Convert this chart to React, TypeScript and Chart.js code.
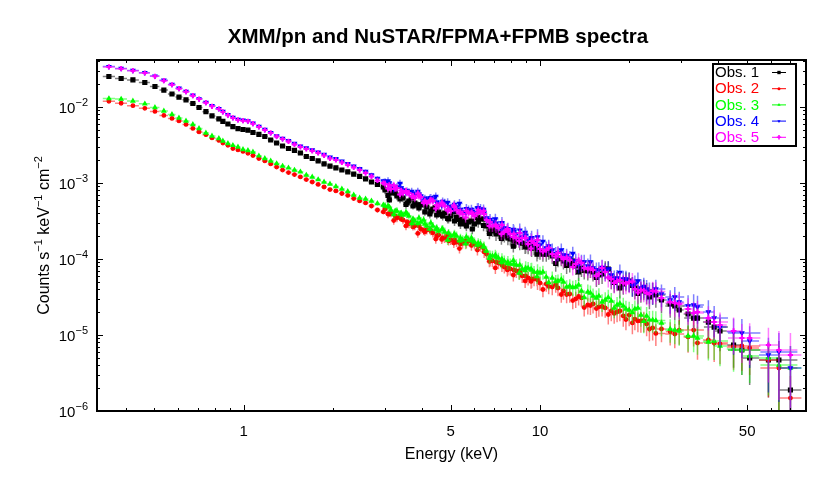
import React, { useEffect, useRef } from 'react';
import { Chart, registerables } from 'chart.js';
Chart.register(...registerables);

const FONT = '"Liberation Sans", Arial, Helvetica, sans-serif';
const TITLE = 'XMM/pn and NuSTAR/FPMA+FPMB spectra';
const X_TITLE = 'Energy (keV)';
const SERIES_NAMES = ['Obs. 1', 'Obs. 2', 'Obs. 3', 'Obs. 4', 'Obs. 5'];
const COLORS = ['#000000', '#ff0000', '#00ff00', '#0000ff', '#ff00ff'];
const POINT_STYLES = ['rect', 'circle', 'triangle', 'triangle', 'cross'];
const POINT_ROT = [0, 0, 0, 180, 0];
const POINT_R = [2.8, 1.8, 2.2, 2.2, 2.6];
const POINT_BW = [1.2, 1.2, 1.2, 1.2, 2];

const X_MIN = 0.32, X_MAX = 79, Y_MIN = 1e-6, Y_MAX = 0.0415;
const X_TICKS = [1, 5, 10, 50];
const X_MINOR = [0.4, 0.5, 0.6, 0.7, 0.8, 0.9, 2, 3, 4, 6, 7, 8, 9, 20, 30, 40, 60, 70];
const Y_TICKS = [1e-6, 1e-5, 1e-4, 1e-3, 1e-2];

const XMM_E = [0.351, 0.386, 0.423, 0.464, 0.502, 0.538, 0.573, 0.605, 0.639, 0.674, 0.707, 0.746, 0.782, 0.825, 0.851, 0.885, 0.920, 0.957, 0.995, 1.034, 1.075,
  1.126, 1.179, 1.234, 1.292, 1.353, 1.417, 1.484, 1.554, 1.627, 1.704, 1.784, 1.868, 1.956, 2.048, 2.145, 2.246, 2.352, 2.463, 2.579, 2.700, 2.828, 2.961, 3.101, 3.247, 3.400,
  3.560, 3.728, 3.904, 4.088, 4.281, 4.483, 4.694, 4.915, 5.147, 5.390, 5.644, 5.910, 6.189, 6.480, 6.786, 7.106, 7.441, 7.792, 8.159, 8.544, 8.947, 9.369, 9.810];
const XMM_ERR = [0.03, 0.03, 0.03, 0.03, 0.03, 0.03, 0.03, 0.03, 0.03, 0.03, 0.03, 0.03, 0.03, 0.03, 0.03, 0.03, 0.03, 0.03, 0.03, 0.03, 0.03,
  0.03, 0.03, 0.03, 0.03, 0.03, 0.035, 0.035, 0.035, 0.04, 0.04, 0.04, 0.045, 0.045, 0.05, 0.05, 0.05, 0.055, 0.06, 0.06, 0.065, 0.07, 0.07, 0.08, 0.08, 0.085,
  0.10, 0.10, 0.11, 0.11, 0.12, 0.12, 0.13, 0.13, 0.14, 0.14, 0.15, 0.15, 0.16, 0.17, 0.18, 0.19, 0.19, 0.20, 0.21, 0.22, 0.23, 0.24, 0.26];

const NUSTAR_A_E = [3.00, 3.14, 3.29, 3.45, 3.61, 3.78, 3.96, 4.15, 4.35, 4.55, 4.77, 5.00, 5.23, 5.48, 5.74, 6.01, 6.30, 6.60, 6.91, 7.24, 7.58, 7.94, 8.32, 8.71, 9.12, 9.55,
  10.0, 10.5, 11.0, 11.5, 12.0, 12.6, 13.2, 13.8, 14.5, 15.1, 15.8, 16.6, 17.4, 18.2, 19.1, 20.0, 20.9, 21.9, 22.9, 24.0,
  25.7, 27.5, 29.5, 31.6, 34.0, 37.0, 40.5, 45.0, 51.0, 59.0, 70.0];
const NUSTAR_A_ERR = [0.12, 0.12, 0.12, 0.12, 0.12, 0.12, 0.13, 0.13, 0.13, 0.13, 0.14,
  0.14, 0.14, 0.15, 0.15, 0.15, 0.16, 0.16, 0.17, 0.17, 0.18, 0.18, 0.19, 0.19, 0.20, 0.20,
  0.21, 0.21, 0.22, 0.22, 0.23, 0.23, 0.24, 0.24, 0.25, 0.25, 0.26, 0.26, 0.27, 0.27, 0.28, 0.29, 0.29, 0.30, 0.31, 0.32,
  0.33, 0.34, 0.36, 0.38, 0.40, 0.43, 0.46, 0.50, 0.56, 0.68, 0.95];
const NUSTAR_B_E = [3.07, 3.21, 3.37, 3.53, 3.69, 3.87, 4.05, 4.25, 4.45, 4.66, 4.88, 5.12, 5.35, 5.61, 5.87, 6.15, 6.45, 6.75, 7.07, 7.41, 7.76, 8.13, 8.51, 8.91, 9.33, 9.77,
  10.23, 10.7, 11.3, 11.8, 12.3, 12.9, 13.5, 14.1, 14.8, 15.5, 16.2, 17.0, 17.8, 18.6, 19.5, 20.5, 21.4, 22.4, 23.4, 24.6,
  28.5, 33.0, 38.7, 48.0, 64.0];
const NUSTAR_B_ERR = [0.12, 0.12, 0.12, 0.12, 0.12, 0.12, 0.13, 0.13, 0.13, 0.13, 0.14,
  0.14, 0.14, 0.15, 0.15, 0.15, 0.16, 0.16, 0.17, 0.17, 0.18, 0.18, 0.19, 0.19, 0.20, 0.20,
  0.21, 0.21, 0.22, 0.22, 0.23, 0.23, 0.24, 0.24, 0.25, 0.25, 0.26, 0.26, 0.27, 0.27, 0.28, 0.29, 0.29, 0.30, 0.31, 0.32,
  0.35, 0.39, 0.44, 0.53, 0.78];

const OBS1_XMM = [2.52e-2, 2.37e-2, 2.27e-2, 2.10e-2, 1.86e-2, 1.67e-2, 1.48e-2, 1.35e-2, 1.24e-2, 1.11e-2, 9.85e-3, 8.67e-3, 7.62e-3, 6.96e-3, 6.45e-3, 5.97e-3, 5.51e-3, 5.19e-3, 5.06e-3, 4.95e-3, 4.62e-3,
  4.35e-3, 4.09e-3, 3.68e-3, 3.36e-3, 3.07e-3, 2.84e-3, 2.68e-3, 2.48e-3, 2.23e-3, 2.10e-3, 1.95e-3, 1.78e-3, 1.67e-3, 1.58e-3, 1.48e-3, 1.40e-3, 1.31e-3, 1.22e-3, 1.13e-3, 1.03e-3, 9.56e-4, 8.86e-4, 5.98e-4, 7.39e-4, 6.96e-4,
  5.46e-4, 4.98e-4, 4.69e-4, 4.16e-4, 4.28e-4, 3.79e-4, 3.68e-4, 3.36e-4, 3.16e-4, 2.89e-4, 2.72e-4, 2.48e-4, 3.07e-4, 3.36e-4, 2.41e-4, 2.13e-4, 2.07e-4, 1.89e-4, 1.73e-4, 1.67e-4, 1.53e-4, 1.40e-4, 1.35e-4];
const OBS2_XMM = [1.19e-2, 1.12e-2, 1.04e-2, 9.6e-3, 8.73e-3, 7.74e-3, 7.06e-3, 6.55e-3, 5.89e-3, 5.22e-3, 4.69e-3, 4.32e-3, 3.91e-3, 3.63e-3, 3.36e-3, 3.13e-3, 2.84e-3, 2.72e-3, 2.60e-3, 2.46e-3, 2.30e-3,
  2.10e-3, 1.95e-3, 1.78e-3, 1.62e-3, 1.48e-3, 1.37e-3, 1.29e-3, 1.20e-3, 1.11e-3, 1.03e-3, 9.56e-4, 8.86e-4, 8.2e-4, 7.85e-4, 7.27e-4, 6.85e-4, 6.25e-4, 5.80e-4, 5.46e-4, 4.98e-4, 4.41e-4, 4.16e-4, 3.91e-4, 3.68e-4, 3.36e-4,
  3.07e-4, 2.64e-4, 2.72e-4, 2.27e-4, 2.34e-4, 2.01e-4, 1.89e-4, 1.73e-4, 1.78e-4, 1.58e-4, 1.62e-4, 1.67e-4, 1.48e-4, 1.24e-4, 9.7e-5, 9.1e-5, 8.34e-5, 7.62e-5, 7.17e-5, 6.96e-5, 5.98e-5, 5.46e-5, 5.30e-5];
const OBS3_XMM = [1.29e-2, 1.27e-2, 1.20e-2, 1.10e-2, 9.85e-3, 8.86e-3, 7.97e-3, 7.17e-3, 6.55e-3, 5.89e-3, 5.22e-3, 4.55e-3, 4.16e-3, 3.85e-3, 3.57e-3, 3.31e-3, 3.12e-3, 2.98e-3, 2.76e-3, 2.68e-3, 2.56e-3,
  2.27e-3, 2.10e-3, 1.95e-3, 1.80e-3, 1.67e-3, 1.58e-3, 1.48e-3, 1.40e-3, 1.27e-3, 1.20e-3, 1.11e-3, 1.03e-3, 9.70e-4, 9.0e-4, 8.34e-4, 7.74e-4, 6.96e-4, 6.35e-4, 6.16e-4, 5.80e-4, 5.38e-4, 5.14e-4, 4.83e-4, 4.28e-4, 4.03e-4,
  3.91e-4, 3.36e-4, 3.46e-4, 2.89e-4, 2.98e-4, 2.56e-4, 2.48e-4, 2.20e-4, 2.13e-4, 1.89e-4, 1.95e-4, 1.73e-4, 1.62e-4, 1.44e-4, 1.10e-4, 1.06e-4, 1.0e-4, 9.1e-5, 8.6e-5, 8.34e-5, 7.62e-5, 7.17e-5, 6.75e-5];
const OBS4_XMM = [3.40e-2, 3.22e-2, 3.02e-2, 2.83e-2, 2.55e-2, 2.25e-2, 1.98e-2, 1.76e-2, 1.60e-2, 1.43e-2, 1.28e-2, 1.15e-2, 1.04e-2, 9.5e-3, 8.7e-3, 7.9e-3, 7.3e-3, 6.85e-3, 6.7e-3, 6.55e-3, 6.1e-3,
  5.55e-3, 5.05e-3, 4.6e-3, 4.15e-3, 3.85e-3, 3.6e-3, 3.3e-3, 3.05e-3, 2.88e-3, 2.72e-3, 2.55e-3, 2.38e-3, 2.18e-3, 2.08e-3, 1.93e-3, 1.80e-3, 1.66e-3, 1.54e-3, 1.42e-3, 1.28e-3, 1.15e-3, 1.06e-3, 1.0e-3, 8.9e-4, 8.6e-4,
  7.9e-4, 7.3e-4, 7.1e-4, 6.3e-4, 6.4e-4, 5.6e-4, 5.7e-4, 4.9e-4, 5.2e-4, 4.5e-4, 4.6e-4, 4.2e-4, 4.7e-4, 4.1e-4, 3.3e-4, 2.95e-4, 3.0e-4, 2.5e-4, 2.3e-4, 2.4e-4, 2.05e-4, 1.9e-4, 1.95e-4];
const OBS5_XMM = [3.36e-2, 3.19e-2, 3.00e-2, 2.80e-2, 2.53e-2, 2.22e-2, 1.96e-2, 1.74e-2, 1.59e-2, 1.41e-2, 1.27e-2, 1.14e-2, 1.02e-2, 9.42e-3, 8.60e-3, 7.78e-3, 7.17e-3, 6.75e-3, 6.60e-3, 6.49e-3, 6.03e-3,
  5.46e-3, 4.98e-3, 4.55e-3, 4.09e-3, 3.79e-3, 3.52e-3, 3.21e-3, 2.98e-3, 2.80e-3, 2.64e-3, 2.48e-3, 2.30e-3, 2.10e-3, 2.01e-3, 1.86e-3, 1.73e-3, 1.60e-3, 1.48e-3, 1.35e-3, 1.22e-3, 1.08e-3, 1.00e-3, 9.42e-4, 8.34e-4, 7.97e-4,
  7.39e-4, 6.75e-4, 6.75e-4, 5.80e-4, 5.98e-4, 5.14e-4, 5.30e-4, 4.55e-4, 4.83e-4, 4.16e-4, 4.28e-4, 3.91e-4, 4.41e-4, 3.91e-4, 3.07e-4, 2.72e-4, 2.80e-4, 2.34e-4, 2.13e-4, 2.20e-4, 1.89e-4, 1.73e-4, 1.78e-4];

const OBS1_NUSTAR_A = [8.09e-4, 7.39e-4, 6.75e-4, 6.35e-4, 5.80e-4, 5.46e-4, 5.14e-4, 4.83e-4, 4.55e-4, 4.15e-4, 4.03e-4, 3.68e-4, 3.57e-4, 3.26e-4, 3.07e-4, 2.89e-4, 3.36e-4, 2.72e-4, 2.34e-4, 2.20e-4,
  2.01e-4, 1.83e-4, 1.73e-4, 1.62e-4, 1.44e-4, 1.40e-4, 1.24e-4, 1.16e-4, 1.10e-4, 1.00e-4, 9.42e-5, 8.60e-5, 8.09e-5, 7.62e-5, 6.96e-5, 6.75e-5, 6.16e-5, 7.39e-5, 5.46e-5, 5.29e-5,
  4.69e-5, 5.14e-5, 4.15e-5, 3.79e-5, 3.68e-5, 3.68e-5, 2.89e-5, 2.56e-5, 2.13e-5, 1.89e-5, 1.67e-5, 1.48e-5, 1.13e-5, 7.39e-6, 4.98e-6, 4.69e-6, 1.89e-6];
const OBS2_NUSTAR_A = [4.55e-4, 4.03e-4, 3.46e-4, 3.26e-4, 2.89e-4, 2.72e-4, 2.48e-4, 2.41e-4, 2.20e-4, 2.07e-4, 1.89e-4, 1.78e-4, 1.67e-4, 1.62e-4, 1.73e-4, 1.58e-4, 1.48e-4, 1.16e-4, 9.42e-5, 8.86e-5,
  7.85e-5, 7.39e-5, 6.96e-5, 5.98e-5, 5.62e-5, 5.46e-5, 4.83e-5, 4.69e-5, 4.28e-5, 4.15e-5, 3.79e-5, 3.46e-5, 2.98e-5, 3.07e-5, 2.48e-5, 2.56e-5, 2.34e-5, 2.27e-5, 2.07e-5, 2.01e-5,
  1.78e-5, 1.83e-5, 1.62e-5, 1.53e-5, 1.40e-5, 1.24e-5, 1.20e-5, 1.10e-5, 1.16e-5, 9.42e-6, 7.85e-6, 8.60e-6, 7.62e-6, 6.96e-6, 6.75e-6, 4.69e-6, 1.48e-6];
const OBS3_NUSTAR_A = [4.98e-4, 4.41e-4, 4.28e-4, 3.79e-4, 3.68e-4, 3.16e-4, 3.07e-4, 2.72e-4, 2.72e-4, 2.34e-4, 2.27e-4, 2.01e-4, 2.01e-4, 1.78e-4, 1.78e-4, 1.67e-4, 1.58e-4, 1.27e-4, 1.10e-4, 1.03e-4,
  9.42e-5, 8.60e-5, 8.34e-5, 7.39e-5, 7.62e-5, 6.75e-5, 6.55e-5, 5.80e-5, 5.62e-5, 5.14e-5, 4.98e-5, 4.41e-5, 4.28e-5, 3.79e-5, 3.68e-5, 3.26e-5, 3.26e-5, 2.89e-5, 2.80e-5, 2.48e-5,
  2.41e-5, 2.13e-5, 2.20e-5, 1.83e-5, 1.78e-5, 1.58e-5, 1.44e-5, 1.20e-5, 1.13e-5, 9.71e-6, 9.14e-6, 8.09e-6, 7.17e-6, 6.55e-6, 5.29e-6, 4.98e-6, 3.68e-6];
const OBS4_NUSTAR_A = [1.03e-3, 9.14e-4, 8.86e-4, 8.09e-4, 7.62e-4, 6.96e-4, 6.75e-4, 5.98e-4, 6.16e-4, 5.29e-4, 5.46e-4, 4.69e-4, 4.83e-4, 4.15e-4, 4.41e-4, 4.03e-4, 4.55e-4, 3.46e-4, 3.07e-4, 2.72e-4,
  2.56e-4, 2.20e-4, 2.13e-4, 1.95e-4, 1.78e-4, 1.67e-4, 1.53e-4, 1.40e-4, 1.31e-4, 1.20e-4, 1.13e-4, 1.03e-4, 9.42e-5, 9.14e-5, 8.09e-5, 7.62e-5, 7.17e-5, 6.96e-5, 6.16e-5, 5.62e-5,
  5.46e-5, 5.14e-5, 4.69e-5, 4.15e-5, 4.03e-5, 3.68e-5, 3.46e-5, 2.89e-5, 2.72e-5, 2.41e-5, 2.34e-5, 2.01e-5, 1.27e-5, 1.10e-5, 8.34e-6, 5.46e-6, 3.68e-6];
const OBS5_NUSTAR_A = [9.71e-4, 8.34e-4, 8.60e-4, 7.39e-4, 7.39e-4, 6.35e-4, 6.55e-4, 5.46e-4, 5.80e-4, 4.98e-4, 4.98e-4, 4.28e-4, 4.41e-4, 3.91e-4, 4.03e-4, 3.68e-4, 4.15e-4, 3.26e-4, 2.72e-4, 2.56e-4,
  2.27e-4, 2.13e-4, 1.89e-4, 1.89e-4, 1.58e-4, 1.62e-4, 1.35e-4, 1.31e-4, 1.16e-4, 1.20e-4, 1.00e-4, 9.71e-5, 8.60e-5, 8.86e-5, 7.39e-5, 7.17e-5, 6.35e-5, 6.75e-5, 5.46e-5, 5.14e-5,
  4.83e-5, 4.98e-5, 4.03e-5, 3.91e-5, 3.57e-5, 3.79e-5, 3.07e-5, 2.72e-5, 2.56e-5, 2.20e-5, 2.01e-5, 1.67e-5, 1.35e-5, 1.13e-5, 9.14e-6, 7.39e-6, 5.46e-6];

const OBS1_NUSTAR_B = [6.85e-4, 7.73e-4, 6.16e-4, 5.21e-4, 6.35e-4, 5.14e-4, 5.29e-4, 3.91e-4, 4.76e-4, 3.85e-4, 3.41e-4, 4.22e-4, 3.31e-4, 2.89e-4, 3.16e-4, 3.52e-4, 2.76e-4, 2.17e-4, 2.41e-4, 1.86e-4,
  2.10e-4, 1.48e-4, 1.73e-4, 1.44e-4, 1.65e-4, 1.16e-4, 1.16e-4, 1.24e-4, 8.73e-5, 1.03e-4, 8.22e-5, 9.42e-5, 6.75e-5, 7.06e-5, 7.50e-5, 5.71e-5, 6.35e-5, 7.39e-5, 4.91e-5, 4.15e-5,
  5.21e-5, 4.48e-5, 3.52e-5, 4.09e-5, 3.16e-5, 3.36e-5, 2.41e-5, 1.67e-5, 1.27e-5, 6.35e-6, 4.69e-6];
const OBS2_NUSTAR_B = [3.91e-4, 3.21e-4, 3.57e-4, 2.72e-4, 3.07e-4, 2.17e-4, 2.37e-4, 2.44e-4, 1.83e-4, 1.81e-4, 2.07e-4, 1.62e-4, 1.37e-4, 1.73e-4, 1.51e-4, 1.31e-4, 1.40e-4, 9.28e-5, 7.62e-5, 9.14e-5,
  7.17e-5, 6.16e-5, 6.65e-5, 5.14e-5, 5.06e-5, 5.46e-5, 3.97e-5, 4.35e-5, 4.62e-5, 3.41e-5, 3.41e-5, 2.84e-5, 3.21e-5, 2.30e-5, 2.44e-5, 2.23e-5, 2.37e-5, 1.86e-5, 1.92e-5, 2.07e-5,
  1.60e-5, 1.44e-5, 1.53e-5, 1.55e-5, 1.20e-5, 1.05e-5, 1.03e-5, 1.16e-5, 7.85e-6, 7.17e-6, 3.68e-6];
const OBS3_NUSTAR_B = [4.98e-4, 3.85e-4, 3.91e-4, 4.09e-4, 2.93e-4, 2.93e-4, 3.26e-4, 2.48e-4, 2.44e-4, 2.44e-4, 1.78e-4, 2.07e-4, 1.73e-4, 1.58e-4, 1.89e-4, 1.53e-4, 1.46e-4, 1.02e-4, 1.13e-4, 9.0e-5,
  8.73e-5, 9.56e-5, 6.55e-5, 7.06e-5, 7.39e-5, 5.89e-5, 6.75e-5, 4.91e-5, 5.06e-5, 5.38e-5, 4.28e-5, 4.22e-5, 4.55e-5, 3.12e-5, 3.57e-5, 3.07e-5, 2.72e-5, 3.12e-5, 2.27e-5, 2.60e-5,
  2.20e-5, 1.98e-5, 2.27e-5, 1.51e-5, 1.58e-5, 1.55e-5, 1.16e-5, 9.71e-6, 8.34e-6, 6.35e-6, 4.03e-6];
const OBS4_NUSTAR_B = [1.06e-3, 8.47e-4, 9.85e-4, 7.62e-4, 7.73e-4, 7.73e-4, 5.80e-4, 6.25e-4, 6.65e-4, 5.06e-4, 5.54e-4, 4.62e-4, 5.38e-4, 4.03e-4, 4.48e-4, 4.69e-4, 4.48e-4, 3.16e-4, 3.36e-4, 2.48e-4,
  2.44e-4, 2.44e-4, 1.86e-4, 2.23e-4, 1.83e-4, 1.55e-4, 1.70e-4, 1.48e-4, 1.18e-4, 1.31e-4, 1.11e-4, 1.18e-4, 8.47e-5, 9.14e-5, 9.14e-5, 7.17e-5, 7.73e-5, 7.39e-5, 5.54e-5, 6.65e-5,
  5.46e-5, 4.48e-5, 5.14e-5, 4.35e-5, 3.74e-5, 4.03e-5, 3.16e-5, 2.48e-5, 1.67e-5, 1.06e-5, 5.98e-6];
const OBS5_NUSTAR_B = [8.47e-4, 9.28e-4, 7.06e-4, 7.85e-4, 6.65e-4, 7.28e-4, 5.46e-4, 5.80e-4, 4.62e-4, 5.46e-4, 4.35e-4, 5.06e-4, 4.03e-4, 3.52e-4, 4.09e-4, 4.03e-4, 4.28e-4, 2.72e-4, 2.80e-4, 2.13e-4,
  2.48e-4, 1.95e-4, 1.73e-4, 1.89e-4, 1.37e-4, 1.53e-4, 1.25e-4, 1.40e-4, 1.08e-4, 1.06e-4, 1.05e-4, 7.85e-5, 9.56e-5, 7.62e-5, 7.50e-5, 5.98e-5, 7.62e-5, 5.71e-5, 4.83e-5, 5.29e-5,
  4.76e-5, 5.06e-5, 3.63e-5, 3.85e-5, 3.46e-5, 3.74e-5, 2.64e-5, 1.95e-5, 1.48e-5, 9.14e-6, 6.35e-6];

const XMM_SERIES = [OBS1_XMM, OBS2_XMM, OBS3_XMM, OBS4_XMM, OBS5_XMM];
const NUSTAR_A_SERIES = [OBS1_NUSTAR_A, OBS2_NUSTAR_A, OBS3_NUSTAR_A, OBS4_NUSTAR_A, OBS5_NUSTAR_A];
const NUSTAR_B_SERIES = [OBS1_NUSTAR_B, OBS2_NUSTAR_B, OBS3_NUSTAR_B, OBS4_NUSTAR_B, OBS5_NUSTAR_B];

function rgba(hex: string, a: number) {
  const n = parseInt(hex.slice(1), 16);
  return `rgba(${(n >> 16) & 255},${(n >> 8) & 255},${n & 255},${a})`;
}

function binEdges(E: number[]) {
  const lo: number[] = [], hi: number[] = [];
  for (let i = 0; i < E.length; i++) {
    const l = i > 0 ? Math.sqrt(E[i - 1] * E[i]) : null;
    const h = i < E.length - 1 ? Math.sqrt(E[i] * E[i + 1]) : null;
    lo.push(l !== null ? l : (E[i] * E[i]) / (h as number));
    hi.push(h !== null ? h : (E[i] * E[i]) / (l as number));
  }
  return { lo, hi };
}

function buildPoints(E: number[], F: number[], ERR: number[]) {
  const { lo, hi } = binEdges(E);
  return E.map((e, i) => ({ x: e, y: F[i], xlo: lo[i], xhi: hi[i], ylo: F[i] * (1 - ERR[i]), yhi: F[i] * (1 + ERR[i]) }));
}

function drawMarker(ctx: CanvasRenderingContext2D, style: string, rot: number, x: number, y: number, r: number, color: string, bw: number) {
  ctx.save();
  ctx.fillStyle = color; ctx.strokeStyle = color; ctx.lineWidth = bw;
  ctx.beginPath();
  if (style === 'rect') {
    const s = r * Math.SQRT1_2; ctx.rect(x - s, y - s, 2 * s, 2 * s); ctx.fill();
  } else if (style === 'circle') {
    ctx.arc(x, y, r, 0, Math.PI * 2); ctx.fill();
  } else if (style === 'triangle') {
    const d = rot === 180 ? -1 : 1;
    ctx.moveTo(x, y - d * r); ctx.lineTo(x - r * 0.87, y + d * r * 0.5); ctx.lineTo(x + r * 0.87, y + d * r * 0.5); ctx.closePath(); ctx.fill();
  } else {
    ctx.moveTo(x - r, y); ctx.lineTo(x + r, y); ctx.moveTo(x, y - r); ctx.lineTo(x, y + r); ctx.stroke();
  }
  ctx.restore();
}

const decorPlugin = {
  id: 'decor',
  beforeDatasetDraw(chart: any, args: any) {
    const ds = chart.data.datasets[args.index];
    const xs = chart.scales.x, ys = chart.scales.y, ca = chart.chartArea, ctx = chart.ctx;
    ctx.save();
    ctx.beginPath(); ctx.rect(ca.left, ca.top, ca.right - ca.left, ca.bottom - ca.top); ctx.clip();
    ctx.strokeStyle = ds.errColor; ctx.lineWidth = 1.5;
    ctx.beginPath();
    for (const p of ds.data) {
      const px = xs.getPixelForValue(p.x), py = ys.getPixelForValue(p.y);
      const x0 = xs.getPixelForValue(p.xlo), x1 = xs.getPixelForValue(p.xhi);
      const y0 = p.ylo > 0 ? ys.getPixelForValue(p.ylo) : ca.bottom + 5;
      const y1 = ys.getPixelForValue(p.yhi);
      ctx.moveTo(x0, py); ctx.lineTo(x1, py);
      ctx.moveTo(px, y0); ctx.lineTo(px, y1);
    }
    ctx.stroke();
    ctx.restore();
  },
  afterDraw(chart: any) {
    const xs = chart.scales.x, ys = chart.scales.y, ca = chart.chartArea, ctx = chart.ctx as CanvasRenderingContext2D;
    ctx.save();
    ctx.strokeStyle = '#000'; ctx.lineWidth = 1;
    ctx.beginPath();
    const xt = (v: number, len: number) => {
      const px = Math.round(xs.getPixelForValue(v)) + 0.5;
      ctx.moveTo(px, ca.bottom); ctx.lineTo(px, ca.bottom - len);
      ctx.moveTo(px, ca.top); ctx.lineTo(px, ca.top + len);
    };
    X_TICKS.forEach(v => xt(v, 6));
    X_MINOR.forEach(v => xt(v, 3));
    const yt = (v: number, len: number) => {
      const py = Math.round(ys.getPixelForValue(v)) + 0.5;
      ctx.moveTo(ca.left, py); ctx.lineTo(ca.left + len, py);
      ctx.moveTo(ca.right, py); ctx.lineTo(ca.right - len, py);
    };
    Y_TICKS.forEach(v => {
      yt(v, 6);
      for (let m = 2; m <= 9; m++) if (v * m < Y_MAX) yt(v * m, 3);
    });
    ctx.stroke();
    ctx.lineWidth = 2;
    ctx.strokeRect(ca.left, ca.top, ca.right - ca.left, ca.bottom - ca.top);

    ctx.fillStyle = '#000';
    ctx.font = `bold 20.5px ${FONT}`;
    ctx.textAlign = 'center'; ctx.textBaseline = 'middle';
    ctx.fillText(TITLE, 438, 37);

    ctx.font = `15px ${FONT}`;
    X_TICKS.forEach(v => ctx.fillText(String(v), xs.getPixelForValue(v), 432));
    ctx.font = `16px ${FONT}`;
    ctx.fillText(X_TITLE, (ca.left + ca.right) / 2, 455);

    ctx.textBaseline = 'alphabetic'; ctx.textAlign = 'left';
    Y_TICKS.forEach(v => {
      const py = ys.getPixelForValue(v);
      const exp = '\u2212' + Math.abs(Math.round(Math.log10(v)));
      ctx.font = `11px ${FONT}`;
      const wSup = ctx.measureText(exp).width;
      ctx.font = `15px ${FONT}`;
      const wBase = ctx.measureText('10').width;
      const right = ca.left - 9;
      ctx.fillText('10', right - wSup - wBase, py + 6);
      ctx.font = `11px ${FONT}`;
      ctx.fillText(exp, right - wSup, py - 1);
    });

    const parts: [string, boolean][] = [['Counts s', false], ['\u22121', true], [' keV', false], ['\u22121', true], [' cm', false], ['\u22122', true]];
    ctx.save();
    ctx.translate(43, (ca.top + ca.bottom) / 2);
    ctx.rotate(-Math.PI / 2);
    let total = 0;
    const widths = parts.map(([t, sup]) => { ctx.font = `${sup ? 11 : 16}px ${FONT}`; const w = ctx.measureText(t).width; total += w; return w; });
    let cx = -total / 2;
    parts.forEach(([t, sup], i) => {
      ctx.font = `${sup ? 11 : 16}px ${FONT}`;
      ctx.fillText(t, cx, sup ? -1 : 6);
      cx += widths[i];
    });
    ctx.restore();

    const lx = 713, ly = 64, lw = 83, lh = 82;
    ctx.fillStyle = '#fff';
    ctx.fillRect(lx, ly, lw, lh);
    ctx.lineWidth = 2; ctx.strokeStyle = '#000';
    ctx.strokeRect(lx, ly, lw, lh);
    ctx.font = `15px ${FONT}`; ctx.textBaseline = 'middle'; ctx.textAlign = 'left';
    SERIES_NAMES.forEach((name, i) => {
      const y = ly + 8 + i * 16.2;
      ctx.fillStyle = COLORS[i];
      ctx.fillText(name, lx + 2, y + 1);
      ctx.strokeStyle = COLORS[i]; ctx.lineWidth = 1;
      ctx.beginPath(); ctx.moveTo(772, y + 0.5); ctx.lineTo(786, y + 0.5); ctx.stroke();
      drawMarker(ctx, POINT_STYLES[i], POINT_ROT[i], 779, y + 0.5, POINT_R[i] * 0.85, COLORS[i], POINT_BW[i] * 0.8);
    });
    ctx.restore();
  },
};

export default function App() {
  const ref = useRef<HTMLCanvasElement>(null);
  useEffect(() => {
    const datasets = SERIES_NAMES.map((name, i) => ({
      label: name,
      data: [
        ...buildPoints(XMM_E, XMM_SERIES[i], XMM_ERR),
        ...buildPoints(NUSTAR_A_E, NUSTAR_A_SERIES[i], NUSTAR_A_ERR),
        ...buildPoints(NUSTAR_B_E, NUSTAR_B_SERIES[i], NUSTAR_B_ERR),
      ],
      showLine: false,
      pointStyle: POINT_STYLES[i],
      pointRotation: POINT_ROT[i],
      pointRadius: POINT_R[i],
      backgroundColor: COLORS[i],
      borderColor: COLORS[i],
      borderWidth: POINT_BW[i],
      errColor: rgba(COLORS[i], 0.5),
      order: 4 - i,
    }));
    const chart = new Chart(ref.current as HTMLCanvasElement, {
      type: 'scatter',
      data: { datasets } as any,
      options: {
        animation: false,
        responsive: false,
        devicePixelRatio: 1,
        layout: { padding: { left: 0, right: 24, top: 60, bottom: 0 } },
        plugins: { legend: { display: false }, tooltip: { enabled: false }, title: { display: false } },
        scales: {
          x: {
            type: 'logarithmic', min: X_MIN, max: X_MAX, bounds: 'data',
            afterFit: (s: any) => { s.height = 66; },
            afterBuildTicks: (s: any) => { s.ticks = X_TICKS.map(v => ({ value: v })); },
            ticks: { display: false },
            grid: { display: false, drawTicks: false },
            border: { display: false },
          },
          y: {
            type: 'logarithmic', min: Y_MIN, max: Y_MAX, bounds: 'data',
            afterFit: (s: any) => { s.width = 97; },
            afterBuildTicks: (s: any) => { s.ticks = Y_TICKS.map(v => ({ value: v })); },
            ticks: { display: false },
            grid: { display: false, drawTicks: false },
            border: { display: false },
          },
        },
      } as any,
      plugins: [decorPlugin],
    });
    return () => chart.destroy();
  }, []);
  return (
    <div style={{ position: 'fixed', left: 0, top: 0, width: 830, height: 477, background: '#fff' }}>
      <canvas ref={ref} width={830} height={477} style={{ display: 'block', width: 830, height: 477 }} />
    </div>
  );
}
